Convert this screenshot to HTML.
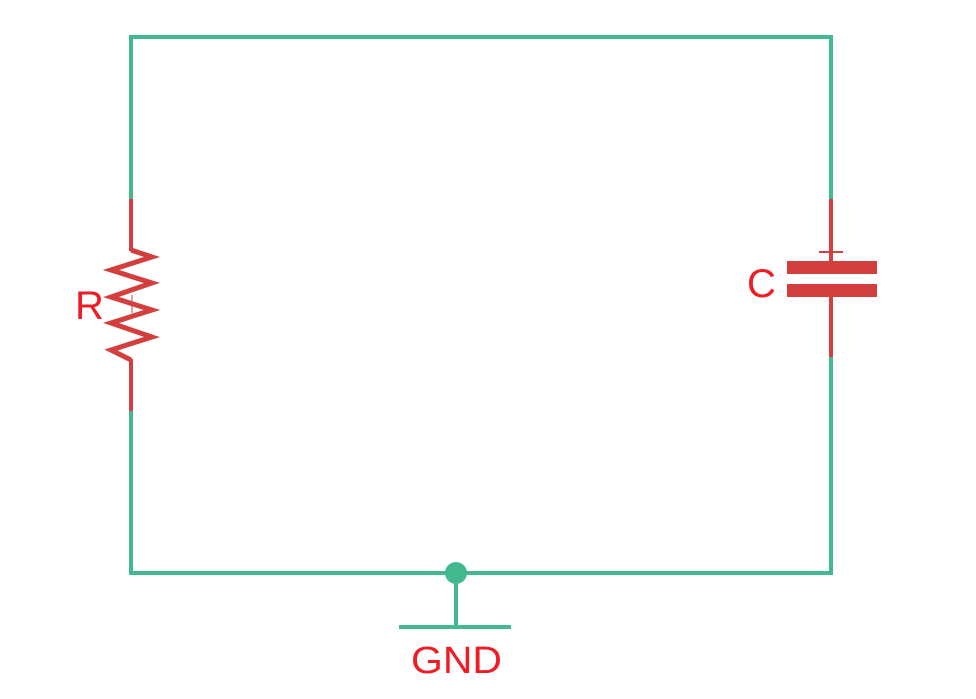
<!DOCTYPE html>
<html>
<head>
<meta charset="utf-8">
<style>
  html, body { margin: 0; padding: 0; background: #ffffff; }
  body { width: 976px; height: 699px; overflow: hidden; }
  svg { display: block; }
  text { font-family: "Liberation Sans", Arial, sans-serif; fill: #ee1c24; }
</style>
</head>
<body>
<svg width="976" height="699" viewBox="0 0 976 699" xmlns="http://www.w3.org/2000/svg">
  <!-- green wires -->
  <g stroke="#42b98e" stroke-width="4" fill="none" stroke-linecap="square">
    <polyline points="131,199 131,37 831,37 831,199"/>
    <polyline points="131,411 131,573 831,573 831,357"/>
    <line x1="456" y1="573" x2="456" y2="627"/>
    <line x1="399" y1="627" x2="511" y2="627" stroke-linecap="butt"/>
  </g>
  <circle cx="456" cy="573" r="11" fill="#42b98e"/>

  <!-- resistor -->
  <g stroke="#d33f3f" fill="none">
    <line x1="131" y1="199" x2="131" y2="251" stroke-width="4"/>
    <line x1="131" y1="359" x2="131" y2="411" stroke-width="4"/>
    <polyline stroke-width="5" stroke-linejoin="miter" points="131,250 152,257 111,270 152,283 111,297 152,310 111,323 152,337 111,350 131,360"/>
    <line x1="132" y1="295" x2="132" y2="313" stroke-width="1"/>
  </g>

  <!-- capacitor -->
  <g fill="#d33f3f">
    <rect x="829" y="199" width="4" height="62"/>
    <rect x="829" y="297" width="4" height="60"/>
    <rect x="819" y="251" width="24" height="2"/>
    <rect x="787" y="261" width="90" height="13"/>
    <rect x="787" y="284" width="90" height="13"/>
  </g>

  <!-- labels -->
  <text x="75" y="319" font-size="40">R</text>
  <text x="747" y="297" font-size="40">C</text>
  <text x="411" y="673" font-size="38" textLength="91" lengthAdjust="spacingAndGlyphs">GND</text>
</svg>
</body>
</html>
